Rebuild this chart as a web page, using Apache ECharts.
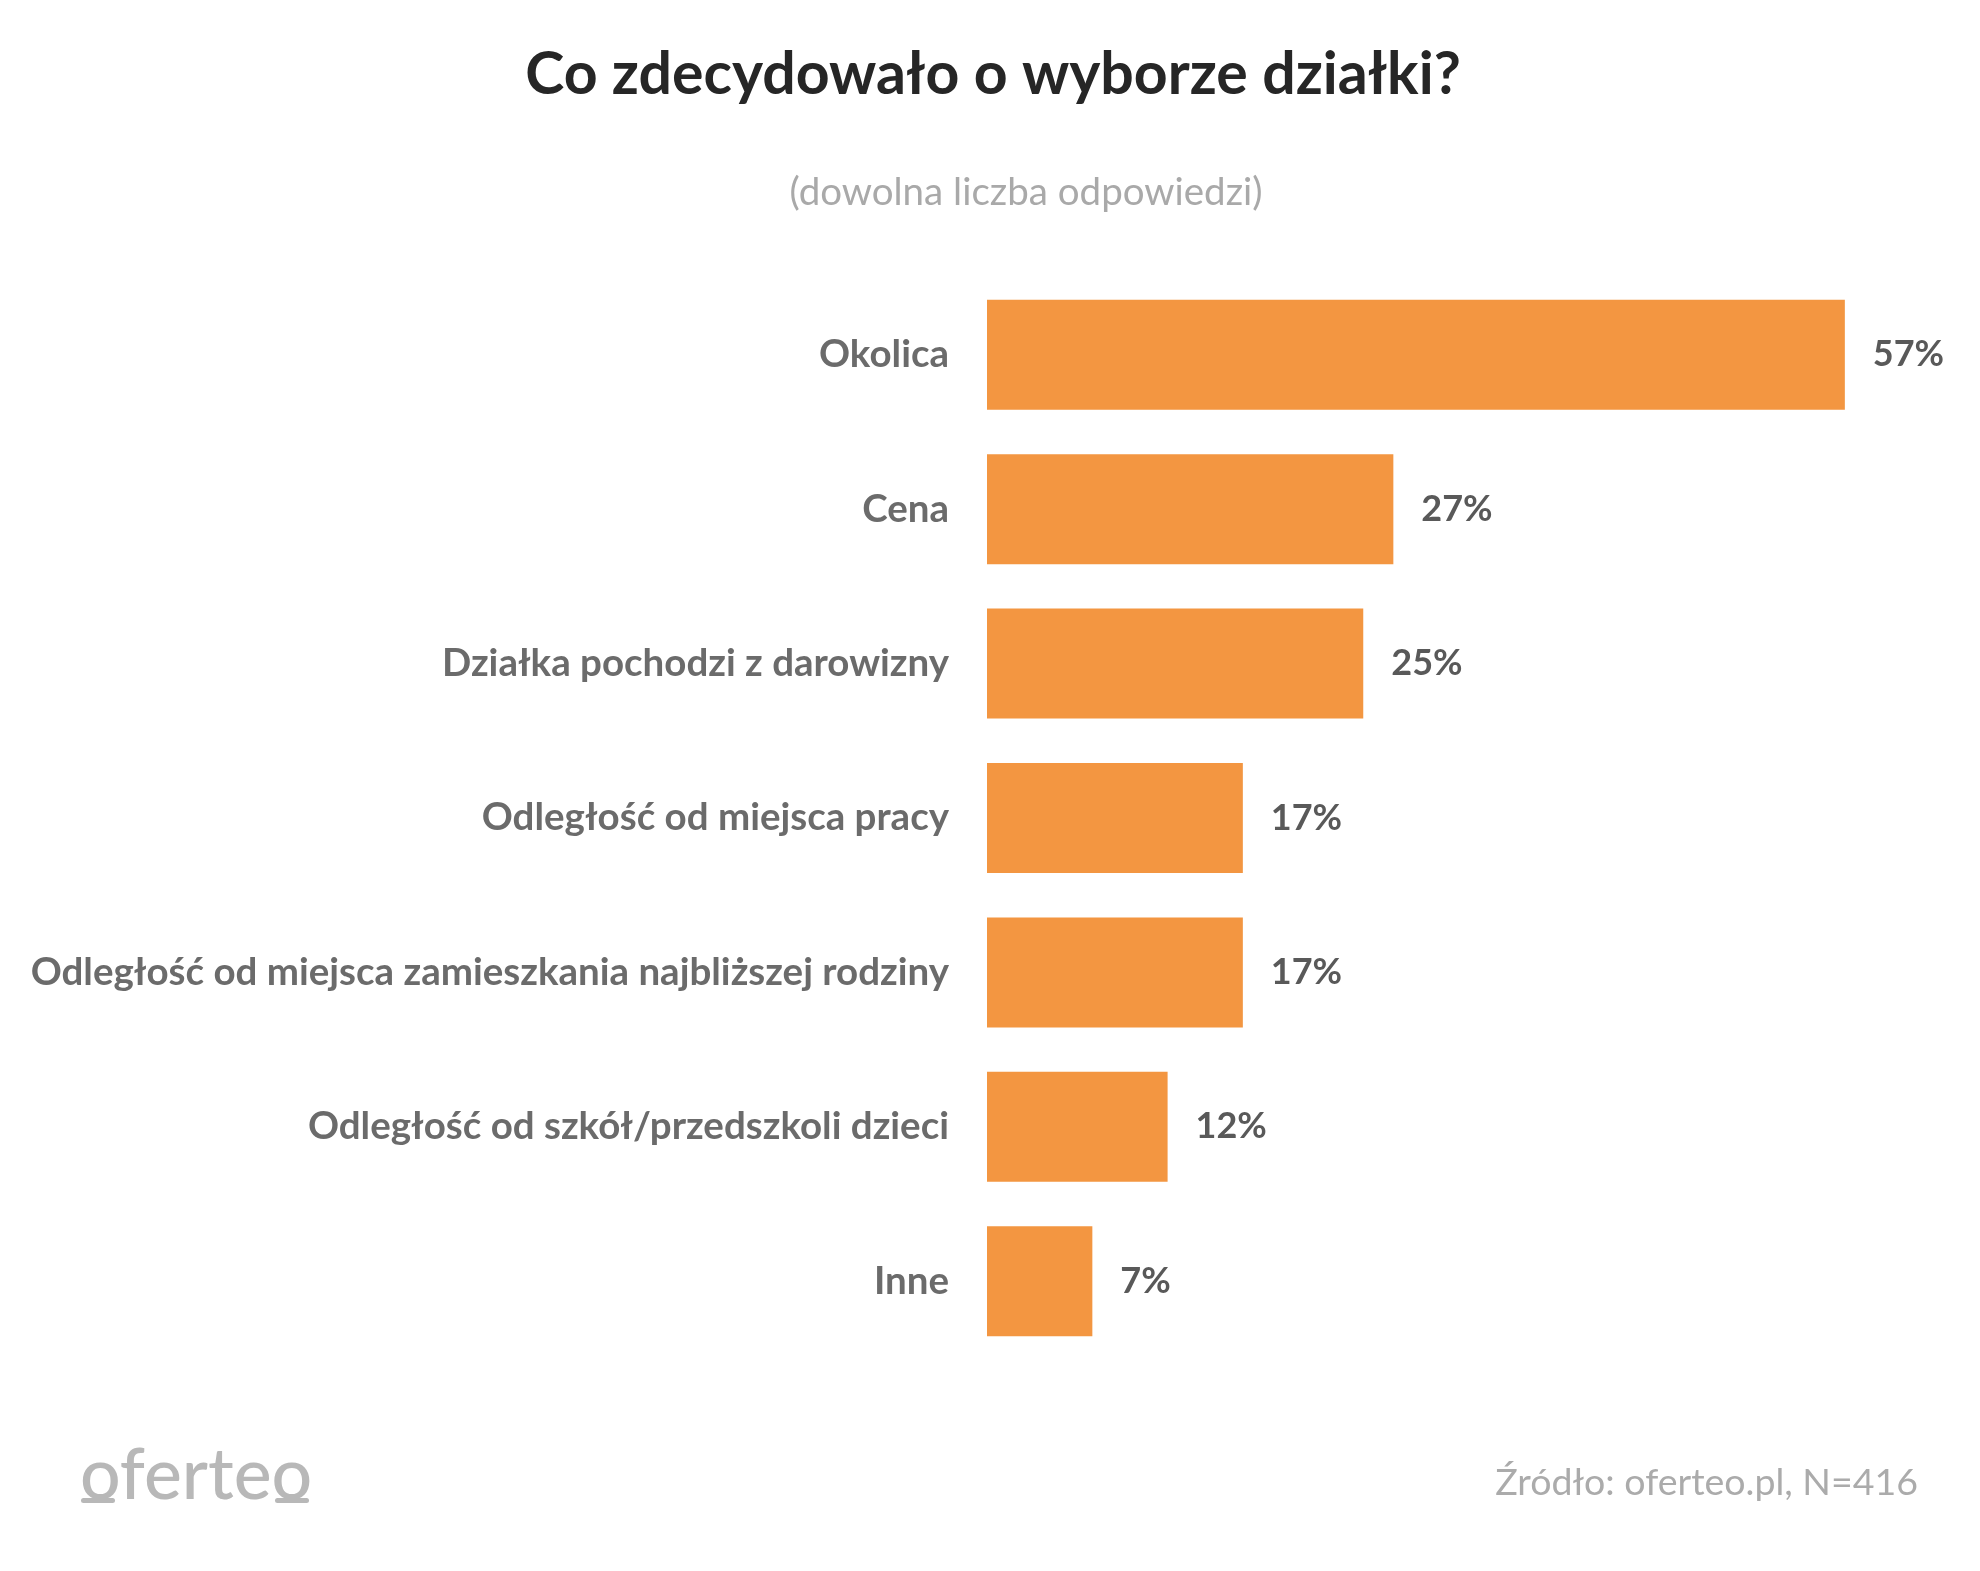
<!DOCTYPE html>
<html>
<head>
<meta charset="utf-8">
<script src="https://cdn.jsdelivr.net/npm/echarts@6/dist/echarts.min.js"></script>
<style>
html,body{margin:0;padding:0;background:#fff;}
#chart{width:1980px;height:1571px;}
</style>
</head>
<body>
<div id="chart"></div>
<script>
const categories = [
  'Okolica',
  'Cena',
  'Działka pochodzi z darowizny',
  'Odległość od miejsca pracy',
  'Odległość od miejsca zamieszkania najbliższej rodziny',
  'Odległość od szkół/przedszkoli dzieci',
  'Inne'
];
const values = [57, 27, 25, 17, 17, 12, 7];
const titleText = 'Co zdecydowało o wyborze działki?';
const subtitleText = '(dowolna liczba odpowiedzi)';
const sourceText = 'Źródło: oferteo.pl, N=416';
const logoText = 'oferteo';

const FONT = 'Lato, "Open Sans", sans-serif';
const chart = echarts.init(document.getElementById('chart'));
chart.setOption({
  backgroundColor: '#ffffff',
  animation: false,
  graphic: [
    { type: 'text', x: 993, y: 75, style: { text: titleText, fill: '#262626', font: 'bold 59px ' + FONT, textAlign: 'center', textVerticalAlign: 'middle' } },
    { type: 'text', x: 1026, y: 193, style: { text: subtitleText, fill: '#a9a9a9', font: '38.5px ' + FONT, textAlign: 'center', textVerticalAlign: 'middle' } },
    { type: 'text', x: 1918, y: 1483, style: { text: sourceText, fill: '#ababab', font: '37.5px ' + FONT, textAlign: 'right', textVerticalAlign: 'middle' } },
    { type: 'text', x: 80, y: 1476, style: { text: logoText, fill: '#b8b8b8', font: '500 71.5px ' + FONT, textAlign: 'left', textVerticalAlign: 'middle' } },
    { type: 'rect', shape: { x: 81, y: 1498, width: 34, height: 5, r: 2.5 }, style: { fill: '#b8b8b8' } },
    { type: 'rect', shape: { x: 275, y: 1498, width: 34, height: 5, r: 2.5 }, style: { fill: '#b8b8b8' } }
  ],
  grid: { left: 987, right: 90, top: 277.5, height: 1081, containLabel: false },
  xAxis: {
    type: 'value', min: 0, max: 60, show: false
  },
  yAxis: {
    type: 'category', data: categories, inverse: true,
    axisLine: { show: false }, axisTick: { show: false }, splitLine: { show: false },
    axisLabel: { margin: 38, color: '#6b6b6b', fontFamily: FONT, fontWeight: 'bold', fontSize: 38.5 }
  },
  series: [{
    type: 'bar', data: values, barWidth: 110,
    itemStyle: { color: '#F39641' },
    label: {
      show: true, position: 'right', distance: 28,
      formatter: '{c}%', color: '#595959', fontFamily: FONT, fontWeight: 'bold', fontSize: 36
    }
  }]
});
</script>
</body>
</html>
